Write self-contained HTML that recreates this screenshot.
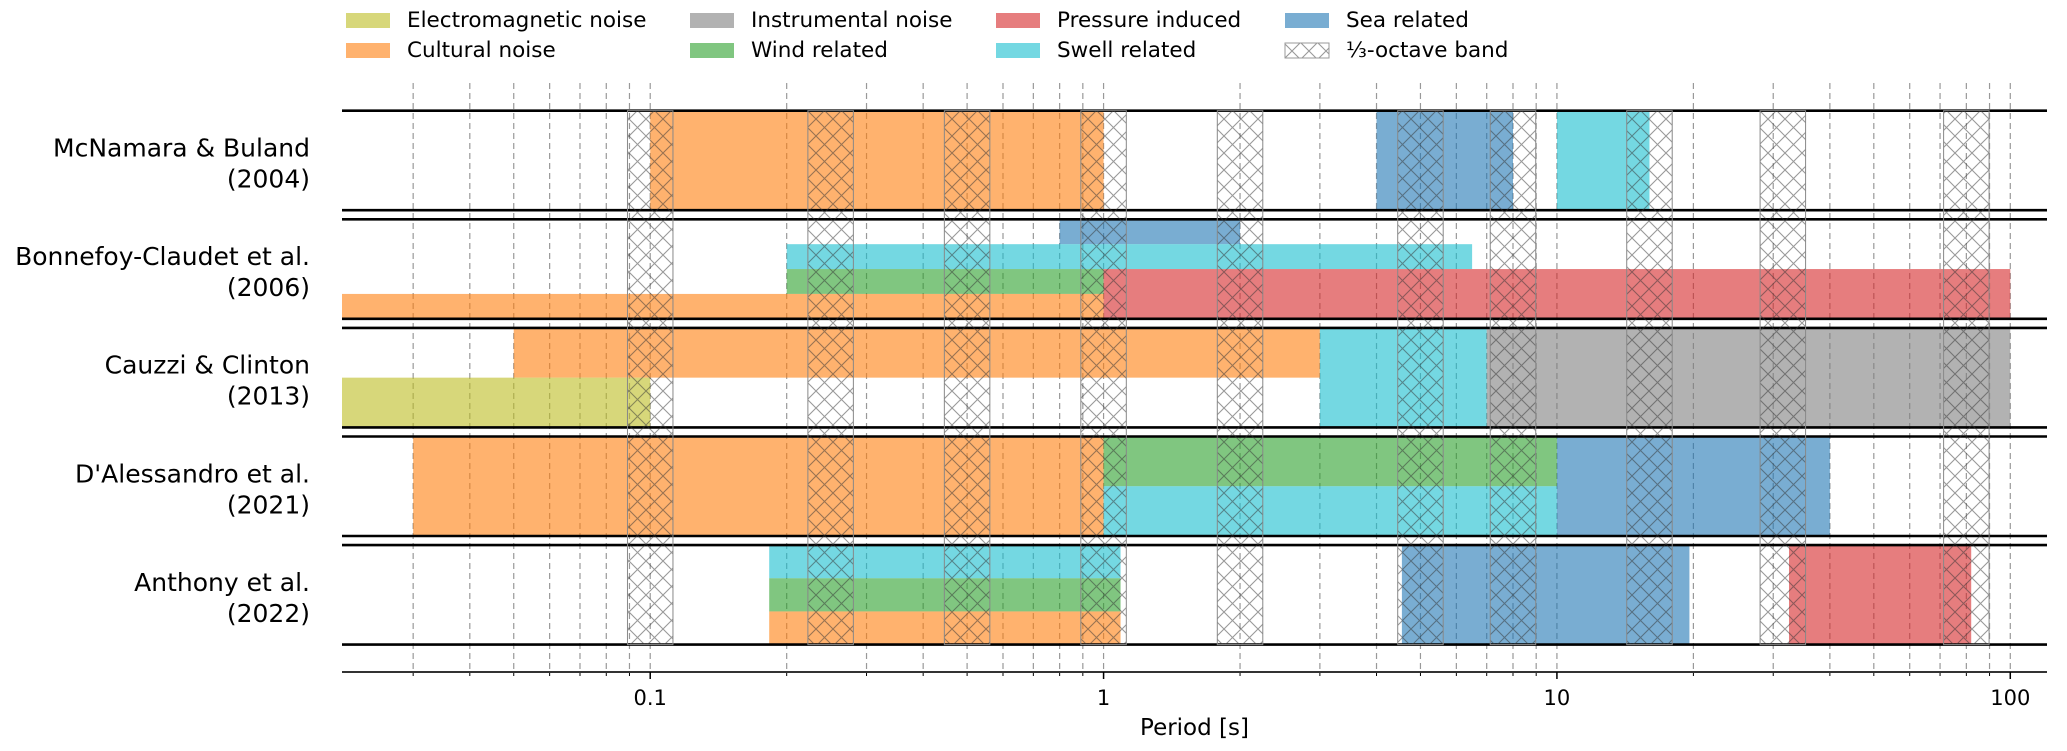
<!DOCTYPE html>
<html><head><meta charset="utf-8">
<style>
html,body{margin:0;padding:0;background:#fff;}
svg{display:block;font-family:"DejaVu Sans","Liberation Sans",sans-serif;}
</style></head>
<body>
<svg id="chart" width="2067" height="751" viewBox="0 0 2067 751" xmlns="http://www.w3.org/2000/svg">
<defs>
<pattern id="hatch" patternUnits="userSpaceOnUse" width="17" height="17">
<path d="M0,0 L17,17 M17,0 L0,17 M-2,15 L2,19 M15,-2 L19,2 M-2,2 L2,-2 M15,19 L19,15" stroke="#333" stroke-opacity="0.5" stroke-width="1.1" fill="none"/>
</pattern>
</defs>
<g id="legend"></g>
<g id="grid"></g>
<g id="bars"></g>
<g id="frames"></g>
<g id="hatches"></g>
<g id="labels"></g>
<g id="xaxis"></g>
</svg>
<script>
const NS = "http://www.w3.org/2000/svg";
// ---- data ----
const categories = ["McNamara & Buland|(2004)", "Bonnefoy-Claudet et al.|(2006)", "Cauzzi & Clinton|(2013)", "D'Alessandro et al.|(2021)", "Anthony et al.|(2022)"];
const sourceNames = ["Electromagnetic noise", "Cultural noise", "Instrumental noise", "Wind related", "Pressure induced", "Swell related", "Sea related"];
const sourceColors = ["#bcbd22", "#ff7f0e", "#7f7f7f", "#2ca02c", "#d62728", "#17becf", "#1f77b4"];
// bars: [row, source index, period min, period max, track start, track end, number of tracks]
const barRow = [0,0,0, 1,1,1,1,1, 2,2,2,2, 3,3,3,3, 4,4,4,4,4];
const barSource = [1,6,5, 6,5,3,4,1, 1,0,5,2, 1,3,5,6, 5,3,1,6,4];
const barMin = [0.1,4,10, 0.8,0.2,0.2,1,0.02, 0.05,0.02,3,7, 0.03,1,1,10, 0.183,0.183,0.183,4.55,32.5];
const barMax = [1,8,16, 2,6.5,1,100,1, 3,0.1,7,100, 1,10,10,40, 1.09,1.09,1.09,19.6,82];
const trackStart = [0,0,0, 0,1,2,2,3, 0,1,0,0, 0,0,1,0, 0,1,2,0,0];
const trackEnd = [1,1,1, 1,2,3,4,4, 1,2,2,2, 2,1,2,2, 1,2,3,3,3];
const trackCount = [1,1,1, 4,4,4,4,4, 2,2,2,2, 2,2,2,2, 3,3,3,3,3];
const bandCenters = [0.1, 0.25, 0.5, 1, 2, 5, 8, 16, 31.5, 80];
const tickValues = [0.1, 1, 10, 100];
const tickLabels = ["0.1", "1", "10", "100"];
const gridValues = [0.03,0.04,0.05,0.06,0.07,0.08,0.09,0.1,0.2,0.3,0.4,0.5,0.6,0.7,0.8,0.9,1,2,3,4,5,6,7,8,9,10,20,30,40,50,60,70,80,90,100];

// ---- scales ----
const X0 = 342, X1 = 2047, XMIN = 0.0209, XMAX = 120.5;
function xs(v){ v = Math.max(XMIN, Math.min(XMAX, v)); return X0 + (Math.log10(v) - Math.log10(XMIN)) / (Math.log10(XMAX) - Math.log10(XMIN)) * (X1 - X0); }
const ROW_TOP = 110.7, ROW_H = 99.5, ROW_PITCH = 108.6;
function rowTop(i){ return ROW_TOP + i * ROW_PITCH; }

function el(tag, attrs, parent){ const e = document.createElementNS(NS, tag); for (const k in attrs) e.setAttribute(k, attrs[k]); parent.appendChild(e); return e; }

// grid
const grid = document.getElementById('grid');
gridValues.forEach(v => {
  const l = el('line', {x1: xs(v), x2: xs(v), y1: 83, y2: 672, stroke: '#999', 'stroke-width': 1.2, 'stroke-dasharray': '6,4'}, grid);
  
  
  const m = el('line', {x1: xs(v), x2: xs(v), y1: 672, y2: 676, stroke: '#000', 'stroke-width': 1}, grid);
  
  
});

// bars
const bars = document.getElementById('bars');
for (let i = 0; i < barRow.length; i++) {
  const t = rowTop(barRow[i]);
  const th = ROW_H / trackCount[i];
  const y = t + trackStart[i] * th, h = (trackEnd[i] - trackStart[i]) * th;
  const x = xs(barMin[i]), w = xs(barMax[i]) - x;
  const r = el('rect', {x: x, y: y, width: w, height: h, fill: sourceColors[barSource[i]], 'fill-opacity': 0.6}, bars);
  
  
}

// frames
const frames = document.getElementById('frames');
categories.forEach((c, i) => {
  [rowTop(i), rowTop(i) + ROW_H].forEach(y => {
    const l = el('line', {x1: X0, x2: X1, y1: y, y2: y, stroke: '#000', 'stroke-width': 2.6}, frames);
    
    
  });
});

// hatch bands
const hatches = document.getElementById('hatches');
const yTopAll = rowTop(0), yBotAll = rowTop(categories.length - 1) + ROW_H;
bandCenters.forEach(c => {
  const a = xs(c * Math.pow(2, -1/6)), b = xs(c * Math.pow(2, 1/6));
  const r = el('rect', {x: a, y: yTopAll, width: b - a, height: yBotAll - yTopAll, fill: 'url(#hatch)', stroke: '#888', 'stroke-width': 1}, hatches);
  
  
});

// row labels
const labels = document.getElementById('labels');
categories.forEach((c, i) => {
  const parts = c.split('|');
  const mid = rowTop(i) + ROW_H / 2;
  const t = el('text', {x: 310, y: mid - 4, 'text-anchor': 'end', 'font-size': 25, fill: '#000'}, labels);
  
  
  t.textContent = parts[0];
  const t2 = el('text', {x: 310, y: mid + 27, 'text-anchor': 'end', 'font-size': 25, fill: '#000'}, labels);
  
  
  t2.textContent = parts[1];
});

// x axis
const xa = document.getElementById('xaxis');
const sp = el('line', {x1: X0, x2: X1, y1: 672, y2: 672, stroke: '#333', 'stroke-width': 2}, xa);


tickValues.forEach((v, i) => {
  const tk = el('line', {x1: xs(v), x2: xs(v), y1: 672, y2: 679, stroke: '#000', 'stroke-width': 1.5}, xa);
  
  
  const t = el('text', {x: xs(v), y: 705, 'text-anchor': 'middle', 'font-size': 21, fill: '#000'}, xa);
  
  
  t.textContent = tickLabels[i];
});
const xt = el('text', {x: (X0 + X1) / 2, y: 735, 'text-anchor': 'middle', 'font-size': 23, fill: '#000'}, xa);


xt.textContent = 'Period [s]';

// legend
const lg = document.getElementById('legend');
const legOrder = [0, 1, 2, 3, 4, 5, 6, -1];
const colX = [346, 690, 996, 1285];
const rowY = [13, 43];
legOrder.forEach((s, k) => {
  const cx = colX[Math.floor(k / 2)], cy = rowY[k % 2];
  let sw;
  if (s >= 0) {
    sw = el('rect', {x: cx, y: cy, width: 44, height: 15, fill: sourceColors[s], 'fill-opacity': 0.6}, lg);
  } else {
    sw = el('rect', {x: cx, y: cy, width: 44, height: 15, fill: 'url(#hatch)', stroke: '#999', 'stroke-width': 1}, lg);
  }
  
  
  const t = el('text', {x: cx + 61, y: cy + 14, 'font-size': 21.5, fill: '#000'}, lg);
  
  
  t.textContent = s >= 0 ? sourceNames[s] : '\u2153-octave band';
});
</script>
</body></html>
